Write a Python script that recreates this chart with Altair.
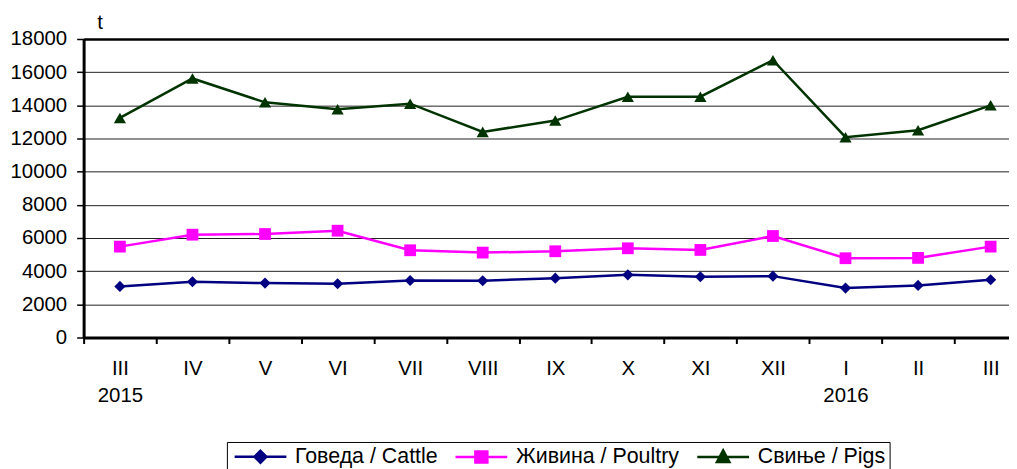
import altair as alt
import pandas as pd

# ---- data ----
months = ["III|2015", "IV", "V", "VI", "VII", "VIII", "IX", "X", "XI", "XII", "I|2016", "II", "III"]
cattle = [3080, 3360, 3280, 3240, 3440, 3420, 3580, 3780, 3660, 3700, 2980, 3140, 3480]
poultry = [5480, 6200, 6240, 6440, 5260, 5120, 5200, 5380, 5280, 6120, 4780, 4800, 5480]
pigs = [13240, 15620, 14180, 13760, 14100, 12400, 13080, 14520, 14520, 16720, 12080, 12500, 14000]
series_names = ["Говеда / Cattle", "Живина / Poultry", "Свиње / Pigs"]
y_ticks = [0, 2000, 4000, 6000, 8000, 10000, 12000, 14000, 16000, 18000]

# ---- styles ----
colors = ["#000080", "#FF00FF", "#003300"]
shapes = ["diamond", "square", "triangle-up"]
sizes = [125, 140, 150]
legend_paths = [
    "M-1,0H6.43M2.71,-0.86L3.57,0L2.71,0.86L1.85,0Z",
    "M-1,0H6.43M1.85,-0.8H3.57V0.8H1.85Z",
    "M-1,0H6.43M2.71,-0.95L3.6,0.7L1.82,0.7Z",
]

rows = []
for name, vals in zip(series_names, [cattle, poultry, pigs]):
    for m, v in zip(months, vals):
        rows.append({"month": m, "series": name, "value": v})
df = pd.DataFrame(rows)

FONT = "Liberation Sans"

x_enc = alt.X(
    "month:N",
    sort=months,
    bandPosition=0.5,
    title=None,
    scale=alt.Scale(type="band", domain=months, paddingInner=0, paddingOuter=0, range=[0, 948]),
    axis=alt.Axis(
        labelExpr="split(datum.label, '|')",
        labelAngle=0,
        labelFontSize=20.5,
        labelLineHeight=27,
        labelColor="black",
        labelPadding=15,
        labelBaseline="top",
        tickBand="extent",
        tickSize=6,
        tickWidth=2,
        tickColor="black",
        domainColor="black",
        domainWidth=3,
        grid=False,
    ),
)

y_enc = alt.Y(
    "value:Q",
    scale=alt.Scale(domain=[0, 18000], nice=False),
    axis=alt.Axis(
        values=y_ticks,
        format="d",
        title="t",
        titleAngle=0,
        titleX=16,
        titleY=-17,
        titleAlign="center",
        titleBaseline="middle",
        titleFontSize=20.5,
        titleFontWeight="normal",
        titleColor="black",
        labelFontSize=20.5,
        labelColor="black",
        labelPadding=10,
        tickSize=7,
        tickWidth=1.5,
        tickColor="black",
        domainColor="black",
        domainWidth=3,
        grid=True,
        gridColor={"condition": {"test": "datum.value == 18000", "value": "black"}, "value": "#222222"},
        gridWidth={"condition": {"test": "datum.value == 18000", "value": 2.5}, "value": 1},
    ),
)

layers = []
for name, c in zip(series_names, colors):
    layers.append(
        alt.Chart(df).transform_filter(alt.datum.series == name)
        .mark_line(color=c, strokeWidth=2.5)
        .encode(x=x_enc, y=y_enc)
    )
for name, c, s, sz in zip(series_names, colors, shapes, sizes):
    layers.append(
        alt.Chart(df).transform_filter(alt.datum.series == name)
        .mark_point(shape=s, filled=True, size=sz, color=c, opacity=1)
        .encode(x=x_enc, y=y_enc)
    )

leg = alt.Legend(
    title=None,
    orient="none",
    legendX=144,
    legendY=405,
    direction="horizontal",
    columns=3,
    symbolSize=196,
    symbolStrokeWidth=2.5,
    symbolOpacity=1,
    labelOffset=43,
    labelFontSize=21.5,
    labelLimit=400,
    labelColor="black",
    labelFont=FONT,
    columnPadding=12,
    padding=4,
    strokeColor="black",
    fillColor="white",
)
layers.append(
    alt.Chart(df).mark_point(filled=True, opacity=0)
    .encode(
        x=x_enc,
        y=y_enc,
        fill=alt.Fill("series:N", scale=alt.Scale(domain=series_names, range=colors), legend=leg),
        stroke=alt.Stroke("series:N", scale=alt.Scale(domain=series_names, range=colors), legend=leg),
        shape=alt.Shape("series:N", scale=alt.Scale(domain=series_names, range=legend_paths), legend=leg),
    )
)

chart = (
    alt.layer(*layers)
    .properties(
        width=930,
        height=300,
        autosize=alt.AutoSizeParams(type="none"),
        padding={"left": 76, "top": 30, "right": 0, "bottom": 131},
        background="white",
    )
    .configure_view(stroke=None)
    .configure(font=FONT)
)

chart.save("out.html", embed_options={"renderer": "svg", "actions": False})
